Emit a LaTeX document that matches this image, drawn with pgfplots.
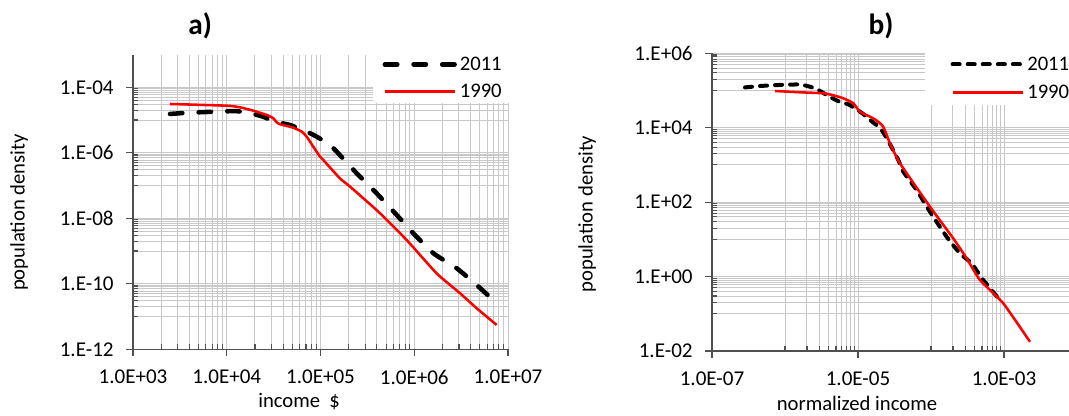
\documentclass[border=0pt]{standalone}
\usepackage{fontspec}
\setmainfont{Carlito}
\usepackage{pgfplots}
\pgfplotsset{compat=1.18}
\definecolor{gridgray}{RGB}{200,200,200}
\definecolor{axgray}{RGB}{80,80,80}
\begin{document}
\begin{tikzpicture}
% ---------------- panel a ----------------
\begin{axis}[
  scale only axis, xmode=log, ymode=log,
  axis x line*=bottom, axis y line*=left,
  axis line style={draw=axgray, line width=1.1pt},
  tick align=inside, major tick length=-5pt, minor tick length=4pt,
  tick style={axgray, line width=0.8pt},
  grid=both,
  major grid style={gridgray, line width=0.75pt},
  minor grid style={gridgray, line width=0.75pt},
  tick label style={font=\fontsize{15.8}{18}\selectfont},
  xticklabel style={yshift=-12pt},
  yticklabel style={xshift=-11pt},
  label style={font=\fontsize{15.5}{18}\selectfont},
  legend cell align=left,
  legend image code/.code={\draw[#1] (0pt,0pt) -- (52.5pt,0pt);},
  at={(99.75pt,49.3pt)}, anchor=south west,
  width=281.25pt, height=221.06pt,
  xmin=1e3, xmax=1e7, ymin=1e-12, ymax=1e-3,
  xtick={1e3,1e4,1e5,1e6,1e7},
  xticklabels={1.0E+03,1.0E+04,1.0E+05,1.0E+06,1.0E+07},
  minor xtick={2e3,3e3,4e3,5e3,6e3,7e3,8e3,9e3,2e4,3e4,4e4,5e4,6e4,7e4,8e4,9e4,
    2e5,3e5,4e5,5e5,6e5,7e5,8e5,9e5,2e6,3e6,4e6,5e6,6e6,7e6,8e6,9e6},
  ytick={1e-12,1e-10,1e-8,1e-6,1e-4},
  yticklabels={1.E-12,1.E-10,1.E-08,1.E-06,1.E-04},
  minor ytick={1e-11,2e-11,3e-11,4e-11,5e-11,6e-11,7e-11,8e-11,9e-11,
    1e-9,2e-9,3e-9,4e-9,5e-9,6e-9,7e-9,8e-9,9e-9,
    1e-7,2e-7,3e-7,4e-7,5e-7,6e-7,7e-7,8e-7,9e-7,
    1e-5,2e-5,3e-5,4e-5,5e-5,6e-5,7e-5,8e-5,9e-5},
  xlabel={income\ \ \$},
  xlabel style={at={(axis description cs:0.443,-0.179)}, anchor=center},
  ylabel={population density},
  ylabel style={at={(axis description cs:-0.304,0.464)}, anchor=center},
  title={a)},
  title style={at={(axis description cs:0.179,1.07)}, anchor=center, font=\fontsize{22}{26}\selectfont\bfseries},
  legend style={at={(0.64,0.8355)}, anchor=south west, fill=white, draw=none,
    inner xsep=7pt, inner ysep=0.7pt, row sep=4.7pt,
    font=\fontsize{15.5}{18}\selectfont},
]
\addplot[black, line width=3.4pt, line cap=round, dash pattern=on 9.3pt off 12.2pt, smooth, tension=0.3] coordinates {
(2.48e3,1.53e-5) (3.17e3,1.61e-5) (5.19e3,1.73e-5) (1.00e4,1.85e-5) (1.33e4,1.85e-5)
(1.92e4,1.53e-5) (2.45e4,1.26e-5) (3.27e4,8.91e-6) (4.73e4,7.06e-6) (7.13e4,4.41e-6)
(9.12e4,3.10e-6) (1.26e5,1.73e-6) (1.49e5,1.08e-6) (2.43e5,2.37e-7) (3.97e5,5.79e-8)
(6.50e5,1.26e-8) (9.77e5,3.48e-9) (1.60e6,8.53e-10) (2.84e6,2.97e-10) (4.63e6,9.18e-11)
(7.57e6,2.54e-11)};
\addlegendentry{2011}
\addplot[red, line width=1.9pt, smooth, tension=0.3] coordinates {
(2.48e3,3.09e-5) (1.00e4,2.74e-5) (1.38e4,2.45e-5) (1.92e4,1.93e-5) (2.67e4,1.43e-5)
(3.14e4,1.13e-5) (3.41e4,8.53e-6) (3.70e4,7.41e-6) (5.13e4,5.83e-6) (6.31e4,4.41e-6)
(7.13e4,3.10e-6) (8.38e4,1.53e-6) (9.89e4,7.60e-7) (1.07e5,6.03e-7) (1.61e5,1.66e-7)
(2.07e5,9.23e-8) (4.32e5,1.42e-8) (8.30e5,2.17e-9) (1.73e6,2.09e-10) (3.08e6,5.13e-11)
(4.63e6,1.79e-11) (7.57e6,5.52e-12)};
\addlegendentry{1990}
\end{axis}
% ---------------- panel b ----------------
\begin{axis}[
  scale only axis, xmode=log, ymode=log,
  axis x line*=bottom, axis y line*=left,
  axis line style={draw=axgray, line width=1.1pt},
  tick align=inside, major tick length=-5pt, minor tick length=4pt,
  tick style={axgray, line width=0.8pt},
  grid=both,
  major grid style={gridgray, line width=0.75pt},
  minor grid style={gridgray, line width=0.75pt},
  tick label style={font=\fontsize{15.8}{18}\selectfont},
  xticklabel style={yshift=-12pt},
  yticklabel style={xshift=-11pt},
  label style={font=\fontsize{15.5}{18}\selectfont},
  legend cell align=left,
  legend image code/.code={\draw[#1] (0pt,0pt) -- (52.5pt,0pt);},
  at={(534pt,48pt)}, anchor=south west,
  width=328.5pt, height=223.3pt,
  xmin=1e-7, xmax=1e-1, ymin=1e-2, ymax=1e6,
  xtick={1e-7,1e-5,1e-3,1e-1},
  xticklabels={1.0E-07,1.0E-05,1.0E-03,{}},
  minor xtick={1e-6,2e-6,3e-6,4e-6,5e-6,6e-6,7e-6,8e-6,9e-6,
    1e-4,2e-4,3e-4,4e-4,5e-4,6e-4,7e-4,8e-4,9e-4,
    1e-2,2e-2,3e-2,4e-2,5e-2,6e-2,7e-2,8e-2,9e-2},
  ytick={1e-2,1e0,1e2,1e4,1e6},
  yticklabels={1.E-02,1.E+00,1.E+02,1.E+04,1.E+06},
  minor ytick={1e-1,2e-1,3e-1,4e-1,5e-1,6e-1,7e-1,8e-1,9e-1,
    1e1,2e1,3e1,4e1,5e1,6e1,7e1,8e1,9e1,
    1e3,2e3,3e3,4e3,5e3,6e3,7e3,8e3,9e3,
    1e5,2e5,3e5,4e5,5e5,6e5,7e5,8e5,9e5},
  xlabel={normalized income},
  xlabel style={at={(axis description cs:0.331,-0.175)}, anchor=center},
  ylabel={population density},
  ylabel style={at={(axis description cs:-0.2854,0.46)}, anchor=center},
  title={b)},
  title style={at={(axis description cs:0.386,1.065)}, anchor=center, font=\fontsize{22}{26}\selectfont\bfseries},
  legend style={at={(0.4863,0.8263)}, anchor=south west, fill=white, draw=none,
    inner xsep=19pt, inner ysep=1.4pt, row sep=5.5pt,
    font=\fontsize{15.5}{18}\selectfont},
]
\addplot[black, line width=3pt, line cap=round, dash pattern=on 5.3pt off 6pt, smooth, tension=0.3] coordinates {
(2.83e-7,1.21e5) (4.55e-7,1.32e5) (8.55e-7,1.41e5) (1.60e-6,1.45e5) (2.20e-6,1.26e5)
(2.86e-6,1.03e5) (4.13e-6,6.68e4) (5.66e-6,4.91e4) (7.36e-6,4.26e4) (9.10e-6,3.33e4)
(1.18e-5,2.33e4) (1.56e-5,1.45e4) (2.00e-5,1.00e4) (2.47e-5,5.28e3) (3.56e-5,1.36e3)
(4.18e-5,656) (6.37e-5,211) (9.68e-5,55.2) (1.64e-4,11.7) (2.49e-4,4.21)
(3.60e-4,2.26) (5.20e-4,0.805) (8.81e-4,0.233)};
\addlegendentry{2011}
\addplot[red, line width=1.9pt, smooth, tension=0.3] coordinates {
(7.29e-7,9.70e4) (1.60e-6,8.95e4) (3.35e-6,8.41e4) (4.59e-6,7.43e4) (6.30e-6,6.17e4)
(8.63e-6,4.53e4) (1.06e-5,2.69e4) (1.46e-5,1.98e4) (1.80e-5,1.56e4) (2.22e-5,1.06e4)
(2.74e-5,3.81e3) (3.76e-5,1.10e3) (9.68e-5,75.2) (2.02e-4,10.6) (3.08e-4,3.08)
(4.69e-4,0.805) (9.77e-4,0.191) (2.27e-3,0.0177)};
\addlegendentry{1990}
\end{axis}
\pgfresetboundingbox
\path[use as bounding box] (0pt,0pt) rectangle (801.75pt,311.25pt);
\end{tikzpicture}
\end{document}
